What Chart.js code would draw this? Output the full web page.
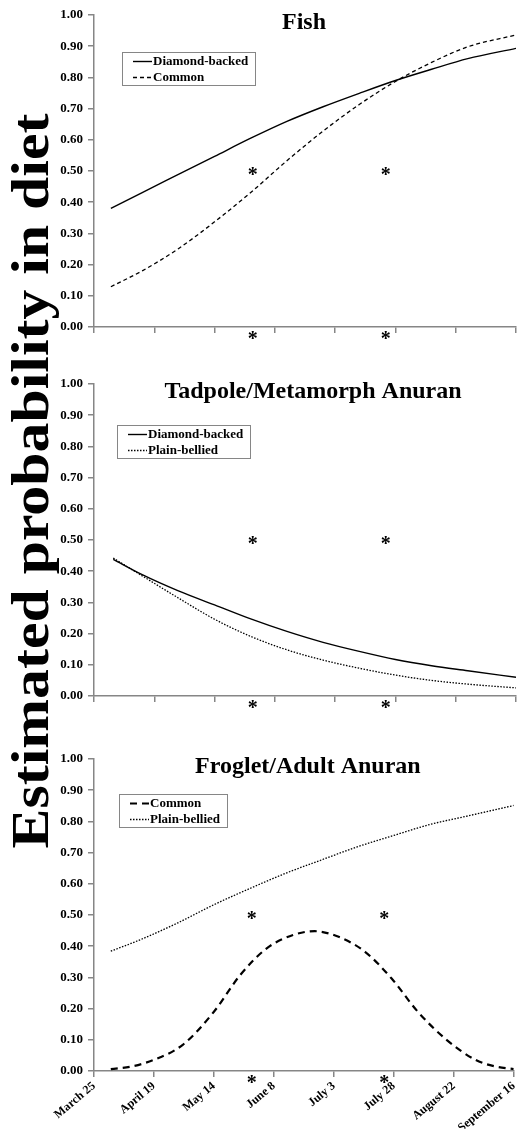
<!DOCTYPE html>
<html>
<head>
<meta charset="utf-8">
<script src="https://cdn.jsdelivr.net/npm/chart.js@4"></script>
<style>
  body { margin: 0; background: #fff; }
  #page { position: relative; width: 525px; height: 1129px; overflow: hidden; }
  .panel { position: absolute; left: 40px; }
  #ytitle {
    position: absolute; left: 30px; top: 481px;
    transform: translate(-50%, -50%) rotate(-90deg) scaleX(1.15);
    font: bold 52px "Liberation Serif", serif; white-space: nowrap; color: #000;
  }
</style>
</head>
<body>
<div id="page">
  <div id="ytitle">Estimated probability in diet</div>
  <canvas class="panel" id="fish" width="485" height="360" style="top:0px"></canvas>
  <canvas class="panel" id="tadpole" width="485" height="360" style="top:360px"></canvas>
  <canvas class="panel" id="froglet" width="485" height="409" style="top:720px"></canvas>
</div>
<script>
// x values are days after March 25
const dateLabels = ["March 25", "April 19", "May 14", "June 8", "July 3", "July 28", "August 22", "September 16"];

const fishDays = [7, 20, 35, 50, 65, 80, 95, 110, 125, 140, 155, 175];
const fishDiamond = [0.380, 0.431, 0.489, 0.547, 0.605, 0.659, 0.706, 0.749, 0.790, 0.826, 0.860, 0.893];
const fishCommon = [0.129, 0.180, 0.251, 0.337, 0.431, 0.533, 0.628, 0.713, 0.787, 0.848, 0.898, 0.936];

const tadDays = [8, 20, 35, 50, 65, 80, 95, 110, 125, 140, 155, 175];
const tadDiamond = [0.438, 0.389, 0.337, 0.292, 0.247, 0.207, 0.172, 0.143, 0.117, 0.097, 0.081, 0.060];
const tadPlain = [0.442, 0.385, 0.314, 0.246, 0.191, 0.148, 0.115, 0.089, 0.067, 0.050, 0.038, 0.026];

const frogPlainDays = [7, 20, 35, 50, 65, 80, 95, 110, 125, 140, 155, 175];
const frogPlain = [0.384, 0.423, 0.475, 0.533, 0.585, 0.634, 0.677, 0.719, 0.755, 0.790, 0.816, 0.851];
const frogCommonDays = [7, 16, 25, 37, 50, 61, 72, 83, 92, 102, 113, 124, 135, 147, 159, 167, 175];
const frogCommon = [0.006, 0.015, 0.036, 0.084, 0.190, 0.308, 0.393, 0.436, 0.448, 0.430, 0.382, 0.297, 0.190, 0.100, 0.036, 0.015, 0.006];

// significance asterisks
const starDays = [65.8, 121];
const starLevels = [0.5, -0.027];

const axisGray = "#868686";
const serif = "Liberation Serif";

function pts(days, vals) {
  return days.map((d, i) => ({ x: d, y: vals[i] }));
}

// title, boxed legend and asterisks drawn inside the plot
const panelDecor = {
  id: "panelDecor",
  afterDraw(chart, args, opts) {
    const ctx = chart.ctx;
    const area = chart.chartArea;
    ctx.save();
    ctx.fillStyle = "#000";
    ctx.font = "bold 24px '" + serif + "'";
    ctx.textAlign = "center";
    ctx.textBaseline = "alphabetic";
    ctx.fillText(opts.title, (area.left + area.right) / 2 + opts.titleShift, area.top + 14);

    ctx.font = "bold 13px '" + serif + "'";
    ctx.textAlign = "left";
    ctx.textBaseline = "middle";
    const items = chart.data.datasets;
    const textW = Math.max(...items.map(d => ctx.measureText(d.label).width));
    const bx = area.left + opts.boxX;
    const by = area.top + opts.boxY;
    ctx.strokeStyle = axisGray;
    ctx.lineWidth = 1;
    ctx.strokeRect(Math.round(bx) + 0.5, Math.round(by) + 0.5, Math.round(textW + 38), 33);
    items.forEach((d, i) => {
      const ly = by + 9.5 + i * 16;
      ctx.beginPath();
      ctx.setLineDash(d.borderDash || []);
      ctx.lineWidth = d.borderWidth;
      ctx.strokeStyle = "#000";
      ctx.moveTo(bx + 11, ly);
      ctx.lineTo(bx + 30, ly);
      ctx.stroke();
      ctx.setLineDash([]);
      ctx.fillText(d.label, bx + 31, ly);
    });

    ctx.font = "bold 20px '" + serif + "'";
    ctx.textAlign = "center";
    ctx.textBaseline = "alphabetic";
    const m = ctx.measureText("*");
    const shift = (m.actualBoundingBoxAscent - m.actualBoundingBoxDescent) / 2;
    for (const d of starDays) {
      for (const v of starLevels) {
        const px = chart.scales.x.getPixelForValue(d);
        const py = chart.scales.y.getPixelForValue(v);
        ctx.fillText("*", px, py + shift);
      }
    }
    ctx.restore();
  }
};

function makePanel(id, title, titleShift, boxX, boxY, datasets, showLabels, padTop, xHeight) {
  return new Chart(document.getElementById(id), {
    type: "line",
    data: { datasets: datasets },
    plugins: [panelDecor],
    options: {
      responsive: false,
      animation: false,
      layout: { padding: { top: padTop, right: 9, left: 0, bottom: 0 } },
      elements: { point: { radius: 0 }, line: { cubicInterpolationMode: "monotone", borderColor: "#000" } },
      plugins: {
        legend: { display: false },
        tooltip: { enabled: false },
        panelDecor: { title: title, titleShift: titleShift, boxX: boxX, boxY: boxY },
      },
      scales: {
        x: {
          type: "linear",
          min: 0,
          max: 175,
          border: { color: axisGray, width: 1.5 },
          grid: { drawOnChartArea: false, tickLength: 6, color: axisGray, lineWidth: 1.5 },
          ticks: {
            display: showLabels,
            stepSize: 25,
            autoSkip: false,
            minRotation: 40,
            maxRotation: 40,
            padding: 2,
            color: "#000",
            font: { family: serif, weight: "bold", size: 12 },
            callback: v => dateLabels[v / 25],
          },
          afterFit: s => { s.height = xHeight; },
        },
        y: {
          min: 0,
          max: 1,
          border: { color: axisGray, width: 1.5 },
          grid: { drawOnChartArea: false, tickLength: 6, color: axisGray, lineWidth: 1.5 },
          ticks: {
            stepSize: 0.1,
            padding: 5,
            color: "#000",
            font: { family: serif, weight: "bold", size: 13 },
            callback: v => v.toFixed(2),
          },
          afterFit: s => { s.width = 54; },
        },
      },
    },
  });
}

makePanel("fish", "Fish", -1, 28, 37, [
  { label: "Diamond-backed", data: pts(fishDays, fishDiamond), borderColor: "#000", borderWidth: 1.4 },
  { label: "Common", data: pts(fishDays, fishCommon), borderColor: "#000", borderWidth: 1.3, borderDash: [4, 3] },
], false, 15, 33);

makePanel("tadpole", "Tadpole/Metamorph Anuran", 8, 23, 41, [
  { label: "Diamond-backed", data: pts(tadDays, tadDiamond), borderColor: "#000", borderWidth: 1.4 },
  { label: "Plain-bellied", data: pts(tadDays, tadPlain), borderColor: "#000", borderWidth: 1.3, borderDash: [1.5, 1.5] },
], false, 24, 24);

makePanel("froglet", "Froglet/Adult Anuran", 4, 25, 35, [
  { label: "Common", data: pts(frogCommonDays, frogCommon), borderColor: "#000", borderWidth: 2.2, borderDash: [7, 5] },
  { label: "Plain-bellied", data: pts(frogPlainDays, frogPlain), borderColor: "#000", borderWidth: 1.3, borderDash: [1.5, 1.5] },
], true, 39, 58);
</script>
</body>
</html>
